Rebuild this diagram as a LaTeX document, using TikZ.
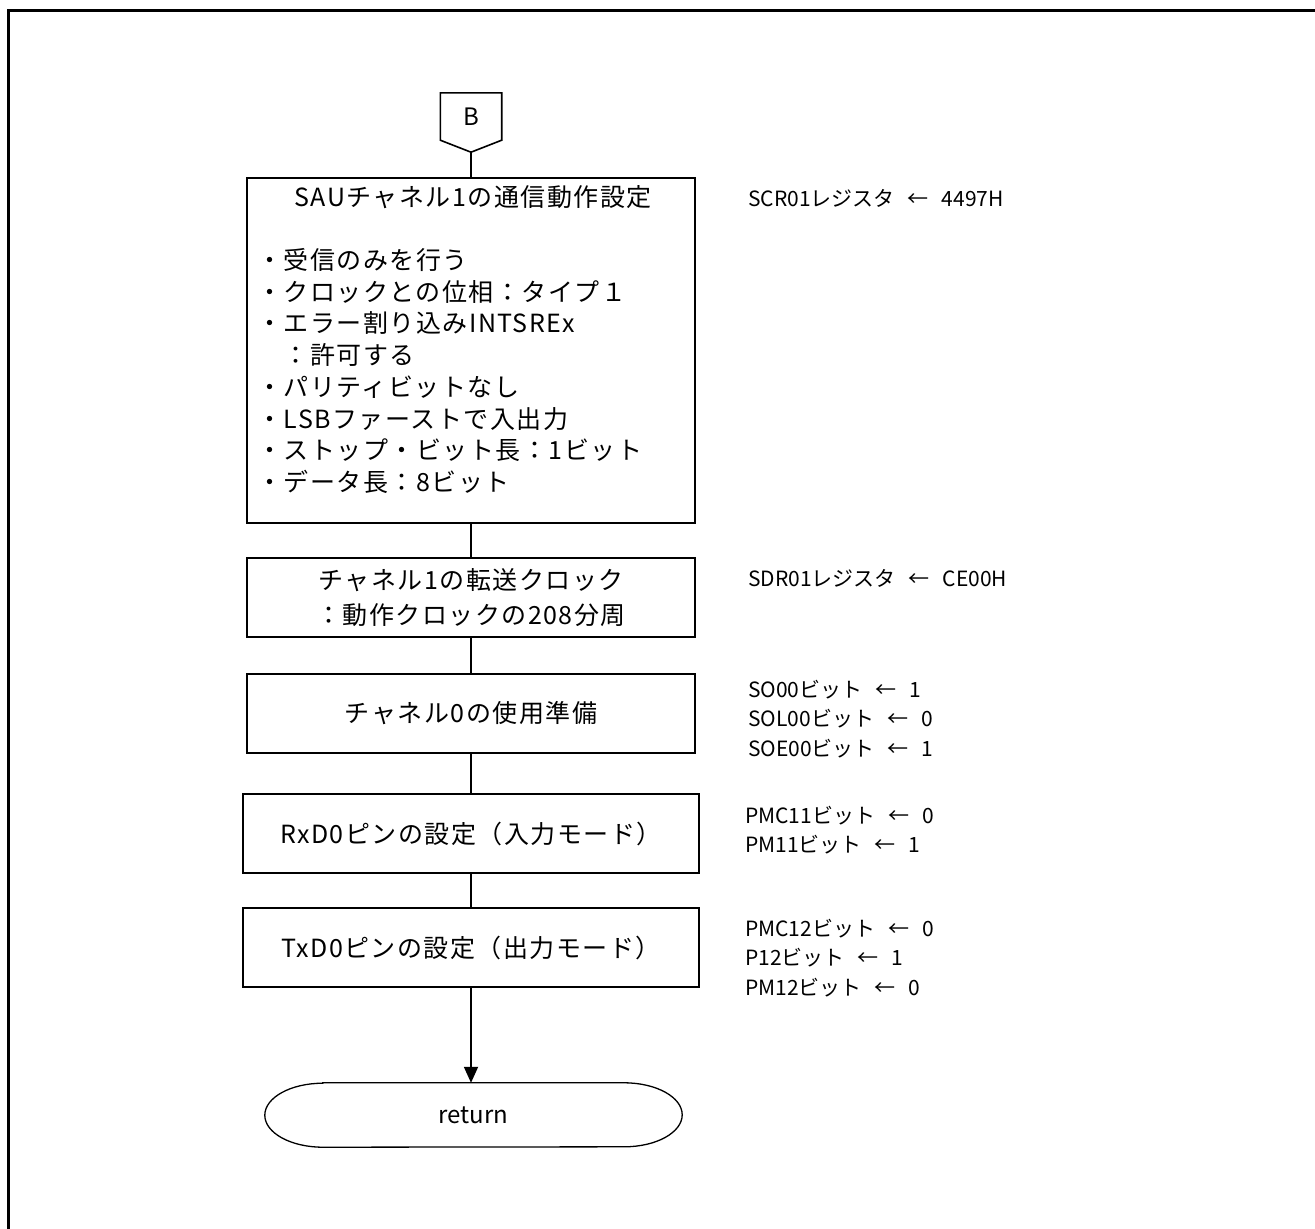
\documentclass[tikz,border=0pt]{standalone}
\usepackage{fontspec}
\setmainfont{Noto Sans CJK JP}
\newfontfamily\boxfont[LetterSpace=6]{Noto Sans CJK JP}
\usetikzlibrary{arrows.meta}

\newcommand{\setto}{\hspace{13pt}←\hspace{13pt}}

\tikzset{
  procbox/.style={draw, line width=1.8pt, minimum width=448pt, minimum height=79pt, inner sep=0pt, align=center, font=\boxfont\fontsize{25}{35}\selectfont},
  regnote/.style={anchor=west, inner sep=0pt, align=left, font=\fontsize{21}{29.5}\selectfont},
  flowline/.style={line width=1.8pt},
}

\begin{document}
\begin{tikzpicture}[x=1pt,y=-1pt]
    \useasboundingbox (0,0) rectangle (1315,1229);
    \draw[line width=3pt] (1315,10) -- (8,10) -- (8,1229);

    \node[inner sep=0pt, minimum width=61pt, minimum height=47pt, font=\fontsize{24}{28}\selectfont] (conB) at (471,116.5) {B};
    \draw[line width=1.6pt] (conB.north west) -- (conB.north east) -- (conB.south east) -- ([yshift=-12pt]conB.south) -- (conB.south west) -- cycle;
    \coordinate (conBtip) at ([yshift=-12pt]conB.south);

    \node[procbox, minimum height=345pt] (sau) at (471,350.5) {};
    \node[inner sep=0pt, font=\boxfont\fontsize{25}{28}\selectfont] (sauT) at (473,197) {SAUチャネル1の通信動作設定};
    \node[inner sep=0pt, anchor=west, align=left, font=\boxfont\fontsize{25}{31.7}\selectfont] (sauL) at (257,371) {・受信のみを行う\\・クロックとの位相：タイプ１\\・エラー割り込みINTSREx\\　：許可する\\・パリティビットなし\\・LSBファーストで入出力\\・ストップ・ビット長：1ビット\\・データ長：8ビット};

    \node[procbox] (chclk) at (471,597.5) {チャネル1の転送クロック\\：動作クロックの208分周};
    \node[procbox] (ch0) at (471,713.5) {チャネル0の使用準備};
    \node[procbox, minimum width=456pt] (rxd) at (471,833.5) {RxD0ピンの設定（入力モード）};
    \node[procbox, minimum width=456pt] (txd) at (471,947.5) {TxD0ピンの設定（出力モード）};

    \node[inner sep=0pt, minimum width=417pt, minimum height=64pt, font=\fontsize{24}{28}\selectfont] (ret) at (473.5,1115) {return};
    \draw[line width=1.3pt] ([xshift=58pt]ret.north west) -- ([xshift=-58pt]ret.north east)
        arc[start angle=90, end angle=-90, x radius=58pt, y radius=32pt]
        -- ([xshift=58pt]ret.south west)
        arc[start angle=270, end angle=90, x radius=58pt, y radius=32pt] -- cycle;

    \draw[flowline] (conBtip) -- (sau.north);
    \draw[flowline] (sau.south) -- (chclk.north);
    \draw[flowline] (chclk.south) -- (ch0.north);
    \draw[flowline] (ch0.south) -- (rxd.north);
    \draw[flowline] (rxd.south) -- (txd.north);
    \draw[flowline, -{Triangle[length=16pt,width=14pt]}] (txd.south) -- (txd.south |- ret.north);

    \node[regnote] (scr) at (748,198) {SCR01レジスタ\setto 4497H};
    \node[regnote] (sdr) at (748,578) {SDR01レジスタ\setto CE00H};
    \node[regnote] (so) at (748,719) {SO00ビット\setto 1\\SOL00ビット\setto 0\\SOE00ビット\setto 1};
    \node[regnote] (pmc11) at (745,830) {PMC11ビット\setto 0\\PM11ビット\setto 1};
    \node[regnote] (pmc12) at (745,958) {PMC12ビット\setto 0\\P12ビット\setto 1\\PM12ビット\setto 0};
\end{tikzpicture}
\end{document}
